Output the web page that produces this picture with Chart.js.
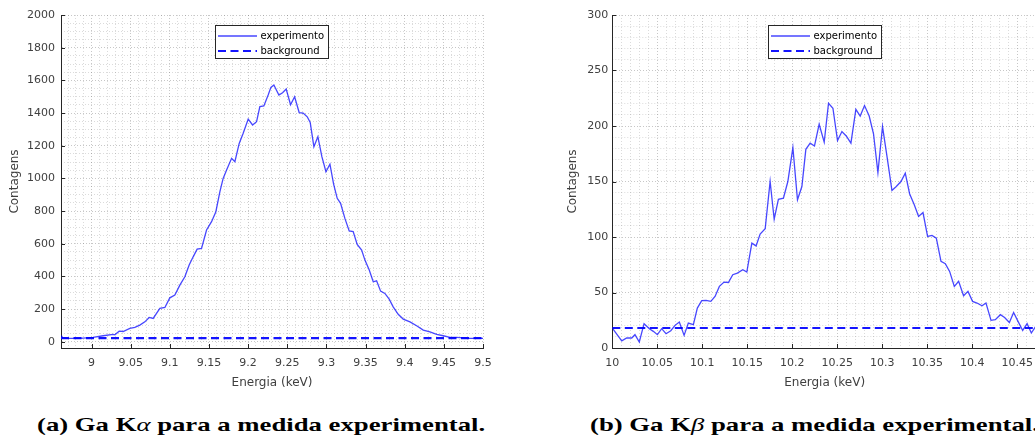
<!DOCTYPE html>
<html>
<head>
<meta charset="utf-8">
<script src="https://cdn.jsdelivr.net/npm/chart.js@4.4.1/dist/chart.umd.min.js"></script>
<style>
  html, body { margin: 0; padding: 0; background: #fff; width: 1035px; height: 441px; overflow: hidden; position: relative; }
  canvas { position: absolute; top: 0; }
  #kaCanvas { left: 0; }
  #kbCanvas { left: 540px; }
  .cap { position: absolute; top: 415px; font: bold 19.5px "Liberation Serif", "Times New Roman", serif; line-height: 20px; white-space: nowrap; color: #000; transform-origin: 0 0; }
  .cap i { font-weight: normal; font-style: italic; }
  #capA { left: 37px; }
  #capB { left: 590px; }
</style>
</head>
<body>
<canvas id="kaCanvas" width="520" height="400"></canvas>
<canvas id="kbCanvas" width="510" height="400"></canvas>
<div class="cap" id="capA">(a) Ga K<i>α</i> para a medida experimental.</div>
<div class="cap" id="capB">(b) Ga K<i>β</i> para a medida experimental.</div>
<script>
// Ga K-alpha peak (left panel)
const kaEnergy = [8.9615, 8.9630, 8.968, 8.985, 9.002, 9.0148, 9.0276, 9.0298, 9.0353, 9.0404,
  9.0489, 9.0553, 9.0617, 9.0681, 9.0736, 9.0787, 9.0873, 9.0937, 9.1000, 9.1064,
  9.1128, 9.1192, 9.1247, 9.1298, 9.1349, 9.1405, 9.1469, 9.1533, 9.1588, 9.1639,
  9.1681, 9.1725, 9.1789, 9.1831, 9.1886, 9.1937, 9.2001, 9.2057, 9.2108, 9.2150,
  9.2201, 9.2256, 9.2291, 9.2329, 9.2393, 9.2440, 9.2486, 9.2542, 9.2594, 9.2652,
  9.2703, 9.2755, 9.2793, 9.2840, 9.2891, 9.2942, 9.2994, 9.3045, 9.3092, 9.3138,
  9.3181, 9.3236, 9.3291, 9.3342, 9.3393, 9.3450, 9.3492, 9.3547, 9.3598, 9.3641,
  9.3692, 9.3747, 9.3802, 9.3853, 9.3917, 9.3981, 9.4067, 9.4152, 9.4237, 9.4322,
  9.4408, 9.4492, 9.4578, 9.4663, 9.4748, 9.4833, 9.4919, 9.5000];
const kaCounts = [38, 24, 21, 21, 27, 37, 45, 43, 65, 63,
  82, 88, 102, 122, 149, 143, 204, 210, 269, 286,
  347, 398, 470, 520, 567, 572, 684, 735, 796, 918,
  1000, 1051, 1123, 1102, 1214, 1276, 1363, 1327, 1347, 1439,
  1443, 1510, 1557, 1572, 1510, 1524, 1547, 1451, 1500, 1403,
  1400, 1377, 1342, 1194, 1255, 1133, 1041, 1087, 965, 878,
  847, 755, 678, 675, 596, 561, 500, 439, 367, 373,
  310, 296, 261, 214, 168, 139, 122, 98, 72, 61,
  45, 37, 27, 27, 24, 21, 21, 21];
const kaBackground = 22;
const kaXTicks = [9, 9.05, 9.1, 9.15, 9.2, 9.25, 9.3, 9.35, 9.4, 9.45, 9.5];
const kaYTicks = [0, 200, 400, 600, 800, 1000, 1200, 1400, 1600, 1800, 2000];

// Ga K-beta peak (right panel)
const kbEnergy = [10.0000, 10.0105, 10.0160, 10.0216, 10.0252, 10.0300, 10.0353, 10.0412, 10.0456, 10.0501,
  10.0549, 10.0597, 10.0650, 10.0697, 10.0745, 10.0798, 10.0845, 10.0901, 10.0945, 10.0994,
  10.1042, 10.1095, 10.1142, 10.1190, 10.1242, 10.1290, 10.1339, 10.1390, 10.1450, 10.1495,
  10.1551, 10.1598, 10.1643, 10.1699, 10.1754, 10.1799, 10.1846, 10.1902, 10.1951, 10.2007,
  10.2058, 10.2107, 10.2151, 10.2199, 10.2247, 10.2299, 10.2355, 10.2403, 10.2452, 10.2503,
  10.2552, 10.2600, 10.2652, 10.2707, 10.2755, 10.2803, 10.2855, 10.2903, 10.2952, 10.3003,
  10.3052, 10.3108, 10.3156, 10.3208, 10.3256, 10.3304, 10.3356, 10.3404, 10.3453, 10.3504,
  10.3553, 10.3601, 10.3653, 10.3701, 10.3749, 10.3801, 10.3849, 10.3904, 10.3953, 10.4004,
  10.4053, 10.4109, 10.4153, 10.4209, 10.4257, 10.4313, 10.4360, 10.4413, 10.4460, 10.4509,
  10.4561, 10.4610, 10.4657, 10.4702];
const kbCounts = [18, 6.5, 9, 9, 12, 5.4, 21.9, 17.4, 15, 12,
  17.4, 12.9, 15.6, 20.4, 23.4, 11.4, 22.5, 21, 36, 42.6,
  42.9, 42, 46.5, 55.5, 59.4, 59, 66, 67.5, 70.5, 68.4,
  94.5, 92, 102.6, 107.4, 150, 116, 134, 135, 150, 180.6,
  133.5, 145.5, 179, 184.5, 182, 201.6, 185.4, 220.5, 216, 186.9,
  195, 191, 184.5, 215, 209, 218.4, 209, 193, 158, 199.5,
  173, 141.9, 145.5, 150, 157.5, 139, 129, 118.5, 122, 100.5,
  101.4, 99, 78, 76, 69, 55.5, 60, 47, 51, 42,
  40.5, 38, 40.5, 24.9, 25.5, 30, 27.5, 23, 32, 24,
  15.8, 21.9, 13.5, 19];
const kbBackground = 18;
const kbXTicks = [10, 10.05, 10.1, 10.15, 10.2, 10.25, 10.3, 10.35, 10.4, 10.45];
const kbYTicks = [0, 50, 100, 150, 200, 250, 300];

const seriesLabels = ['experimento', 'background'];
const axisColor = '#262626';
const textColor = '#404040';

Chart.defaults.font.family = '"DejaVu Sans", sans-serif';
Chart.defaults.color = textColor;

// MATLAB-style boxed legend, centred at the top of the axes
const boxLegend = {
  id: 'boxLegend',
  afterDraw(chart) {
    const { ctx, chartArea } = chart;
    const w = 114, h = 34;
    const x0 = Math.round((chartArea.left + chartArea.right) / 2 - w / 2);
    const y0 = chartArea.top + 10;
    ctx.save();
    ctx.fillStyle = '#fff';
    ctx.fillRect(x0, y0, w, h);
    ctx.strokeStyle = axisColor;
    ctx.lineWidth = 1;
    ctx.strokeRect(x0 + 0.5, y0 + 0.5, w - 1, h - 1);
    chart.data.datasets.forEach((ds, i) => {
      const y = y0 + 11 + i * 15;
      ctx.strokeStyle = ds.borderColor;
      ctx.lineWidth = ds.borderWidth;
      ctx.setLineDash(ds.borderDash || []);
      ctx.beginPath();
      ctx.moveTo(x0 + 3, y);
      ctx.lineTo(x0 + 42, y);
      ctx.stroke();
      ctx.setLineDash([]);
      ctx.fillStyle = '#000';
      ctx.font = '10px "DejaVu Sans"';
      ctx.textBaseline = 'middle';
      ctx.fillText(ds.label, x0 + 45.5, y);
    });
    ctx.restore();
  }
};

// tick marks pointing into the plot
const inwardTicks = {
  id: 'inwardTicks',
  afterDraw(chart) {
    const { ctx, chartArea, scales } = chart;
    ctx.save();
    ctx.strokeStyle = axisColor;
    ctx.lineWidth = 1;
    ctx.beginPath();
    scales.x.ticks.forEach(t => {
      const px = Math.round(scales.x.getPixelForValue(t.value)) + 0.5;
      ctx.moveTo(px, chartArea.bottom);
      ctx.lineTo(px, chartArea.bottom - 4);
    });
    scales.y.ticks.forEach(t => {
      const py = Math.round(scales.y.getPixelForValue(t.value)) + 0.5;
      ctx.moveTo(chartArea.left, py);
      ctx.lineTo(chartArea.left + 4, py);
    });
    ctx.stroke();
    ctx.restore();
  }
};

function fixedTicks(values) {
  return s => { s.ticks = values.map(v => ({ value: v })); };
}

function minorTicks(step, major) {
  return s => {
    const out = [];
    for (let i = Math.ceil(s.min / step - 1e-6); i * step <= s.max + 1e-9; i++) {
      const v = Math.round(i * step * 1e4) / 1e4;
      if (!major.some(m => Math.abs(m - v) < 1e-6)) out.push({ value: v });
    }
    s.ticks = out;
  };
}

function spectrumChart(canvasId, p) {
  const majorGrid = { color: 'rgba(0,0,0,0.22)', drawTicks: false };
  const minorGrid = { color: 'rgba(0,0,0,0.14)', drawTicks: false };
  return new Chart(document.getElementById(canvasId), {
    type: 'line',
    data: {
      datasets: [
        {
          label: seriesLabels[0],
          data: p.energy.map((e, i) => ({ x: e, y: p.counts[i] })),
          borderColor: 'rgba(0,0,255,0.72)',
          borderWidth: 1.3,
          pointRadius: 0,
          tension: 0
        },
        {
          label: seriesLabels[1],
          data: [{ x: p.xMin, y: p.background }, { x: p.xMax, y: p.background }],
          borderColor: 'rgb(20,20,255)',
          borderWidth: 2.2,
          borderDash: [8, 4.5],
          pointRadius: 0
        }
      ]
    },
    options: {
      responsive: false,
      animation: false,
      devicePixelRatio: 1,
      layout: { padding: p.padding },
      plugins: { legend: { display: false }, tooltip: { enabled: false } },
      scales: {
        x: {
          type: 'linear', position: 'bottom', bounds: 'data',
          min: p.xMin, max: p.xMax,
          afterBuildTicks: fixedTicks(p.xTicks),
          afterFit: s => { s.height = 45; },
          ticks: { autoSkip: false, maxRotation: 0, padding: 8.4, font: { size: 11 },
                   callback: v => String(Number(v.toFixed(3))) },
          grid: majorGrid,
          border: { display: true, color: axisColor, width: 1, dash: [1, 2] },
          title: { display: true, text: 'Energia (keV)', font: { size: 12 }, padding: { top: 0, bottom: 3 } }
        },
        y: {
          type: 'linear', position: 'left', bounds: 'data',
          min: p.yMin, max: p.yMax,
          afterBuildTicks: fixedTicks(p.yTicks),
          afterFit: s => { s.width = p.yAxisWidth; },
          ticks: { autoSkip: false, padding: p.yTickPad, font: { size: 11 }, callback: v => String(v) },
          grid: majorGrid,
          border: { display: true, color: axisColor, width: 1, dash: [1, 2] },
          title: { display: true, text: 'Contagens', font: { size: 12 }, padding: { top: p.yTitlePad, bottom: 0 } }
        },
        xm: {
          type: 'linear', position: 'top', bounds: 'data',
          min: p.xMin, max: p.xMax,
          afterBuildTicks: minorTicks(p.xMinor, p.xTicks),
          ticks: { display: false },
          grid: minorGrid,
          border: { display: false, dash: [1, 2] }
        },
        ym: {
          type: 'linear', position: 'right', bounds: 'data',
          min: p.yMin, max: p.yMax,
          afterBuildTicks: minorTicks(p.yMinor, p.yTicks),
          ticks: { display: false },
          grid: minorGrid,
          border: { display: false, dash: [1, 2] }
        }
      }
    },
    plugins: [boxLegend, inwardTicks]
  });
}

spectrumChart('kaCanvas', {
  energy: kaEnergy, counts: kaCounts, background: kaBackground,
  xMin: 8.961, xMax: 9.5, yMin: -38, yMax: 2000,
  xTicks: kaXTicks, yTicks: kaYTicks, xMinor: 0.01, yMinor: 50,
  padding: { left: 0, right: 37, top: 15, bottom: 7 },
  yAxisWidth: 61, yTickPad: 6, yTitlePad: 7.8
});

spectrumChart('kbCanvas', {
  energy: kbEnergy, counts: kbCounts, background: kbBackground,
  xMin: 10, xMax: 10.472, yMin: 0, yMax: 300,
  xTicks: kbXTicks, yTicks: kbYTicks, xMinor: 0.01, yMinor: 10,
  padding: { left: 20, right: 13, top: 15, bottom: 7 },
  yAxisWidth: 52.3, yTickPad: 4, yTitlePad: 5.8
});

// captions are typeset wide in the original; stretch to the same width
function fitCaptions() {
  const a = document.getElementById('capA');
  const k = 448 / a.offsetWidth;
  document.querySelectorAll('.cap').forEach(el => { el.style.transform = 'scaleX(' + k + ')'; });
}
fitCaptions();
if (document.fonts) document.fonts.ready.then(fitCaptions);
</script>
</body>
</html>
